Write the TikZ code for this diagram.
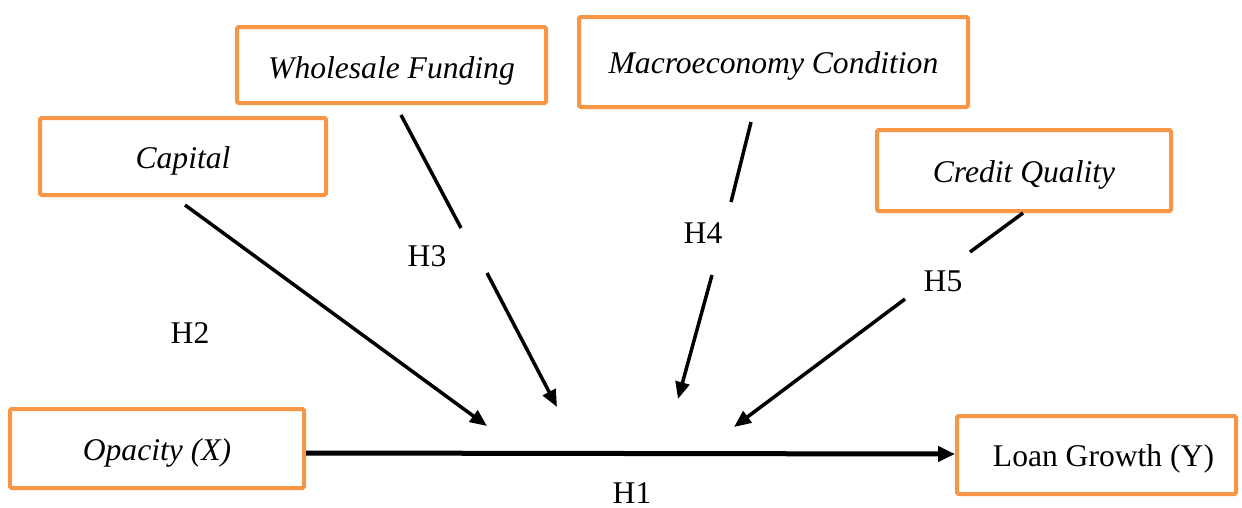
\documentclass[tikz,border=0pt]{standalone}
\usepackage{fontspec}
\setmainfont{Liberation Serif}
\usetikzlibrary{arrows.meta}
\definecolor{boxorange}{HTML}{F79646}
\begin{document}
\begin{tikzpicture}[x=1pt,y=-1pt,
  varbox/.style={draw=boxorange,line width=4pt,rounded corners=1.5pt,inner sep=0pt,
    text height=30pt,text depth=7pt,
    font=\fontsize{31.6}{36}\selectfont},
  hlabel/.style={inner sep=0pt,font=\fontsize{31.6}{36}\selectfont},
  link/.style={line width=3.5pt,line cap=butt},
  linkarrow/.style={link,-{Triangle[length=17pt,width=14pt]}}]
\useasboundingbox (0,0) rectangle (1242,507);
\fill[white] (0,0) rectangle (1242,507);
% boxes
\node[varbox,minimum width=286pt,minimum height=77pt] (cap) at (183,156.5) {\itshape Capital};
\node[varbox,minimum width=309pt,minimum height=76pt,text height=33pt] (whole) at (391.5,65) {\itshape Wholesale Funding};
\node[varbox,minimum width=389pt,minimum height=90pt] (macro) at (773.5,62) {\itshape Macroeconomy Condition};
\node[varbox,minimum width=294pt,minimum height=81pt] (credit) at (1024,170.5) {\itshape Credit Quality};
\node[varbox,minimum width=294pt,minimum height=79pt] (opa) at (157,448.5) {\itshape Opacity (X)};
\node[varbox,minimum width=279pt,minimum height=78pt] (loan) at (1096.5,455) {\hspace*{14pt}Loan Growth (Y)};
% labels
\node[hlabel] (h1) at (632,493) {H1};
\node[hlabel] (h2) at (190,333) {H2};
\node[hlabel] (h3) at (427,256) {H3};
\node[hlabel] (h4) at (703,233) {H4};
\node[hlabel] (h5) at (943,281) {H5};
% coordinates
\coordinate (capS) at (185,205);
\coordinate (capT) at (487,426);
\coordinate (whS) at (401,115);
\coordinate (whA) at (461,228);
\coordinate (whB) at (487,273);
\coordinate (whT) at (557,407);
\coordinate (maS) at (751,122);
\coordinate (maA) at (731,202);
\coordinate (maB) at (712,275);
\coordinate (maT) at (678,399);
\coordinate (crS) at (1023,213);
\coordinate (crA) at (970,252);
\coordinate (crB) at (905,299);
\coordinate (crT) at (734,427);
% connectors
\draw[linkarrow] (capS) -- (capT);
\draw[link] (whS) -- (whA);
\draw[linkarrow] (whB) -- (whT);
\draw[link] (maS) -- (maA);
\draw[linkarrow] (maB) -- (maT);
\draw[link] (crS) -- (crA);
\draw[linkarrow] (crB) -- (crT);
\draw[line width=5pt,-{Triangle[length=17pt,width=15pt]}] ([yshift=-4.5pt]opa.east) -- ([yshift=1pt]loan.west);
\end{tikzpicture}
\end{document}
